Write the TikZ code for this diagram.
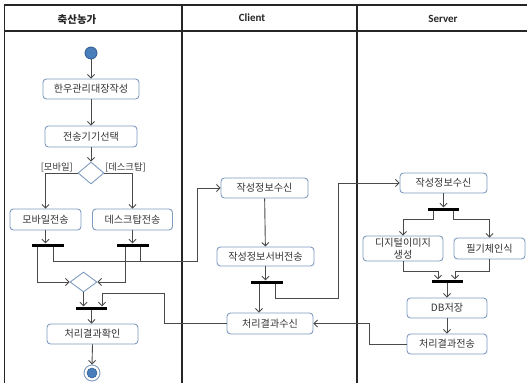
\documentclass[tikz,border=0pt]{standalone}
\usepackage{fontspec}
\setmainfont{Noto Sans CJK KR}
\newfontfamily\hdfont{Carlito}
\usetikzlibrary{arrows.meta,shapes.geometric}
\definecolor{boxline}{HTML}{7F9BBF}
\definecolor{flowc}{HTML}{4A4A4A}
\definecolor{txt}{HTML}{333333}
\definecolor{startfill}{HTML}{4A7EBB}
\definecolor{startline}{HTML}{2F5A8F}
\tikzset{
  act/.style={draw=boxline, line width=0.9pt, rounded corners=3.5pt, fill=white, inner sep=0pt,
    font=\fontsize{10.1}{11.5}\selectfont, text=txt, align=center},
  dec/.style={diamond, draw=boxline, line width=0.9pt, fill=white, inner sep=0pt, aspect=1.2},
  bar/.style={fill=black, inner sep=0pt, minimum height=3pt},
  flow/.style={draw=flowc, line width=0.9pt, -{Straight Barb[length=3.5pt,width=7pt]}},
  flowl/.style={draw=flowc, line width=0.9pt},
  lane/.style={draw=black!85, line width=1.3pt},
  hdr/.style={font=\fontsize{10.5}{12}\selectfont\bfseries, text=black!85},
  hdrl/.style={font=\hdfont\fontsize{11}{12}\selectfont\bfseries, text=black!85},
  guard/.style={font=\fontsize{9.3}{10}\selectfont, text=txt, inner sep=0pt}
}
\begin{document}
\begin{tikzpicture}[x=1pt,y=-1pt]
\useasboundingbox (0,0) rectangle (527,383);
% lanes
\draw[lane] (4.5,383) -- (4.5,5) -- (527,5);
\draw[lane] (4.5,31) -- (527,31);
\draw[lane] (182,5) -- (182,383);
\draw[lane] (357,5) -- (357,383);
\node[hdr] (h1) at (77,19.5) {축산농가};
\node[hdrl] (h2) at (252,17.5) {Client};
\node[hdrl] (h3) at (443,18.5) {Server};

% lane 1
\node[circle, fill=startfill, draw=startline, line width=0.8pt, minimum size=12pt, inner sep=0pt] (start) at (91,53) {};
\node[act, minimum width=96pt, minimum height=20pt] (a1) at (91,89) {한우관리대장작성};
\node[act, minimum width=92pt, minimum height=21pt] (a2) at (91,136.5) {전송기기선택};
\node[dec, minimum width=26pt, minimum height=22pt] (d1) at (91,173) {};
\node[guard, anchor=south east] (g1) at (73,172) {[모바일]};
\node[guard, anchor=south west] (g2) at (105,172) {[데스크탑]};
\node[act, minimum width=71pt, minimum height=21pt] (a3) at (45.5,219.5) {모바일전송};
\node[act, minimum width=80pt, minimum height=21pt] (a4) at (132.5,219.5) {데스크탑전송};
\node[bar, minimum width=32pt] (b1) at (48,245) {};
\node[bar, minimum width=32pt] (b2) at (133,245) {};
\node[dec, minimum width=27pt, minimum height=20pt] (d2) at (83.5,282) {};
\node[bar, minimum width=31pt] (b3) at (91.5,308) {};
\node[act, minimum width=91pt, minimum height=20pt] (a5) at (92.5,334) {처리결과확인};
\node[circle, draw=boxline, line width=0.9pt, fill=white, minimum size=16pt, inner sep=0pt] (end) at (92,373) {};
\node[circle, fill=startfill, draw=startline, line width=0.5pt, minimum size=10pt, inner sep=0pt] (endin) at (end.center) {};

% lane 2
\node[act, minimum width=87pt, minimum height=20pt] (c1) at (264.5,188) {작성정보수신};
\node[act, minimum width=97pt, minimum height=19pt] (c2) at (265.5,256.5) {작성정보서버전송};
\node[bar, minimum width=32pt] (b4) at (267,282) {};
\node[act, minimum width=86pt, minimum height=21pt] (c3) at (270,323.5) {처리결과수신};

% lane 3
\node[act, minimum width=87pt, minimum height=20pt] (s1) at (443.5,183) {작성정보수신};
\node[bar, minimum width=31pt] (b5) at (443.5,209) {};
\node[act, minimum width=80pt, minimum height=25pt, font=\fontsize{10.1}{11.5}\selectfont] (s2) at (403,248.5) {디지털이미지\\생성};
\node[act, minimum width=71pt, minimum height=21pt] (s3) at (489.5,248.5) {필기체인식};
\node[bar, minimum width=31pt] (b6) at (447.5,281) {};
\node[act, minimum width=80pt, minimum height=20pt] (s4) at (447,308) {DB저장};
\node[act, minimum width=80pt, minimum height=20pt] (s5) at (447,344) {처리결과전송};

% bend points
\coordinate (p1) at (37,282);
\coordinate (p2) at (125,282);
\coordinate (q1) at (53,261);
\coordinate (q2) at (197,261);
\coordinate (q3) at (140,261);
\coordinate (r1) at (164,293);
\coordinate (r2) at (102,293);
\coordinate (sx) at (259,0);
\coordinate (t1) at (275,298);
\coordinate (t2) at (338,298);
\coordinate (u1) at (433,219);
\coordinate (u2) at (453,219);
\coordinate (v1) at (438,271);
\coordinate (v2) at (455,271);
\coordinate (w1) at (369,0);

% connectors lane 1
\draw[flow] (start) -- (a1);
\draw[flow] (a1) -- (a2);
\draw[flow] (a2) -- (d1);
\draw[flow] (d1.west) -| (a3.north);
\draw[flow] (d1.east) -| (a4.north);
\draw[flow] (a3.south) -- (a3.south |- b1.north);
\draw[flow] (a4.south) -- (a4.south |- b2.north);
\draw[flow] (b1.south -| p1) |- (d2.west);
\draw[flow] (b2.south -| p2) |- (d2.east);
\draw[flow] (b1.south -| q1) -- (q1) -- (q2) |- (c1.west);
\draw[flowl] (b2.south -| q3) -- (q3);
\draw[flow] (d2.south) -- (d2.south |- b3.north);
\draw[flow] (c3.west) -| (r1) -- (r2) -- (r2 |- b3.north);
\draw[flow] (b3.south) -- (b3.south |- a5.north);
\draw[flow] (a5.south) -- (end.north);

% lane 2
\draw[flow] (c1) -- (c2);
\draw[flow] (c2.south) -- (c2.south |- b4.north);
\draw[flow] (b4.south -| sx) -- (sx |- c3.north);
\draw[flow] (b4.south -| t1) -- (t1) -- (t2) |- (s1.west);

% lane 3
\draw[flow] (s1.south) -- (s1.south |- b5.north);
\draw[flow] (b5.south -| u1) -- (u1) -| (s2.north);
\draw[flow] (b5.south -| u2) -- (u2) -| (s3.north);
\draw[flow] (s2.south) |- (v1) -- (v1 |- b6.north);
\draw[flow] (s3.south) |- (v2) -- (v2 |- b6.north);
\draw[flow] (b6.south -| s4.north) -- (s4.north);
\draw[flow] (s4) -- (s5);
\draw[flow] (s5.west) -| (w1 |- c3.east) -- (c3.east);
\end{tikzpicture}
\end{document}
